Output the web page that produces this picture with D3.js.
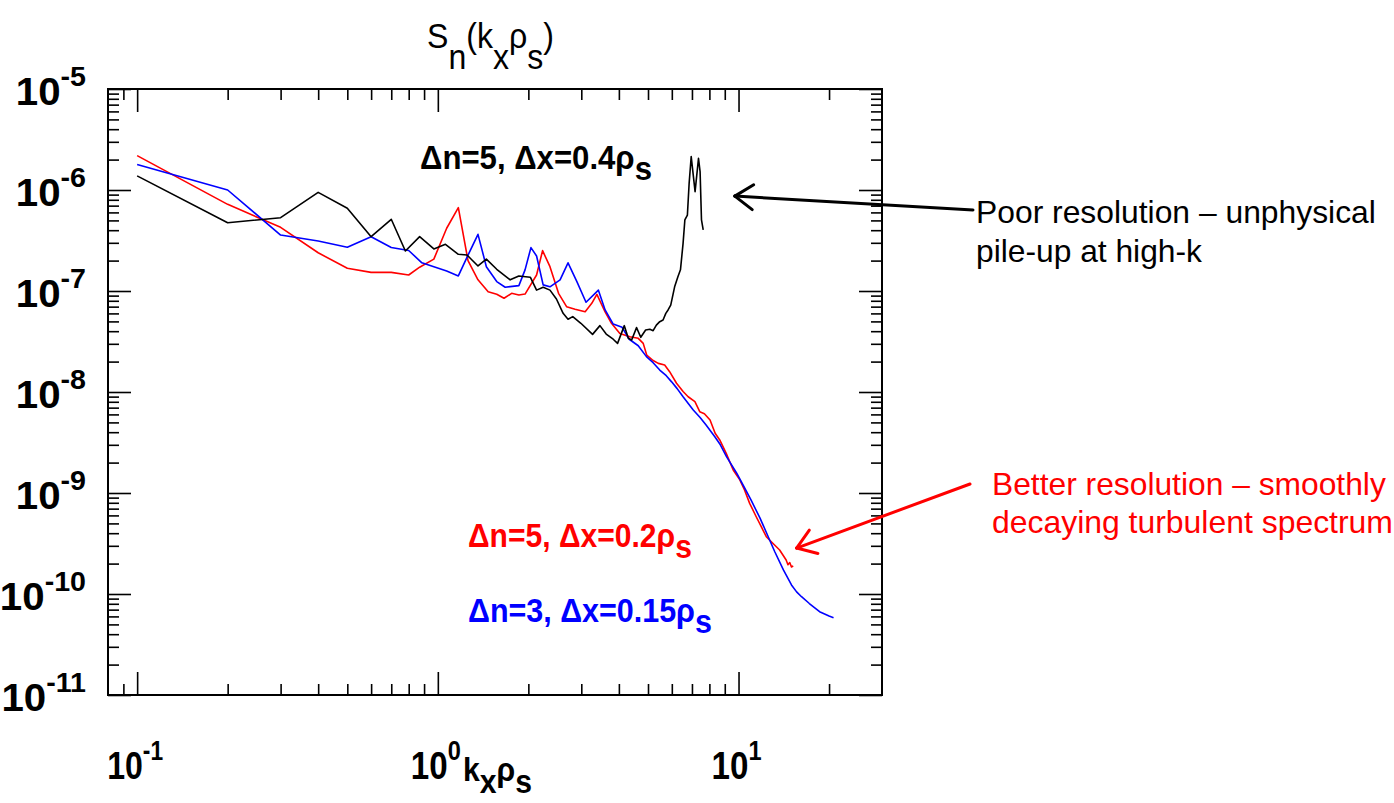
<!DOCTYPE html>
<html><head><meta charset="utf-8">
<script src="https://cdn.jsdelivr.net/npm/d3@7"></script>
<style>
body{margin:0;background:#fff}
svg{display:block}
text{font-family:"Liberation Sans",Arial,Helvetica,sans-serif}
</style>
</head><body>
<svg id="chart" width="1394" height="803"></svg>
<script>
// ---------------- DATA (k_x rho_s , S_n) ----------------
const blackSpectrum = [[0.1,1.38e-6],[0.2,4.74e-7],[0.3,5.32e-7],[0.4,9.48e-7],[0.5,6.6e-7],[0.6,3.45e-7],[0.7,5.13e-7],[0.78,2.49e-7],[0.87,3.45e-7],[0.97,2.61e-7],[1.06,2.9e-7],[1.17,2.31e-7],[1.25,2.27e-7],[1.36,1.77e-7],[1.45,2.07e-7],[1.57,1.64e-7],[1.74,1.29e-7],[1.86,1.41e-7],[2.03,1.37e-7],[2.13,1.02e-7],[2.24,1.09e-7],[2.36,1.02e-7],[2.48,8.34e-8],[2.61,6.01e-8],[2.71,5.25e-8],[2.81,5.57e-8],[2.99,4.79e-8],[3.27,3.72e-8],[3.46,4.54e-8],[3.63,3.75e-8],[3.83,3.33e-8],[3.96,3.03e-8],[4.17,4.54e-8],[4.30,3.4e-8],[4.41,3.27e-8],[4.58,4.34e-8],[4.73,3.48e-8],[4.91,4.11e-8],[5.07,4.18e-8],[5.2,4.05e-8],[5.33,4.6e-8],[5.47,4.97e-8],[5.61,5.16e-8],[5.73,6.01e-8],[5.83,6.49e-8],[5.95,7.26e-8],[6.13,1.1e-7],[6.29,1.39e-7],[6.41,1.62e-7],[6.54,2.96e-7],[6.63,5.05e-7],[6.76,5.65e-7],[6.85,1.16e-6],[6.96,2.14e-6],[7.17,9.62e-7],[7.36,2.06e-6],[7.45,1.52e-6],[7.53,5.05e-7],[7.63,4.02e-7]];

const redSpectrum = [[0.1,2.19e-6],[0.2,7.21e-7],[0.3,4.27e-7],[0.4,2.39e-7],[0.5,1.68e-7],[0.6,1.53e-7],[0.7,1.53e-7],[0.8,1.44e-7],[0.87,1.72e-7],[0.97,2.07e-7],[1.07,4.18e-7],[1.17,6.68e-7],[1.26,2.0e-7],[1.36,1.29e-7],[1.47,9.84e-8],[1.57,9.27e-8],[1.66,8.47e-8],[1.76,9.48e-8],[1.86,9.12e-8],[1.95,9.33e-8],[2.13,1.44e-7],[2.23,2.51e-7],[2.36,1.74e-7],[2.52,9.48e-8],[2.68,7.0e-8],[2.86,6.6e-8],[3.09,6.24e-8],[3.25,7.55e-8],[3.38,9.27e-8],[3.6,6.2e-8],[3.78,4.79e-8],[4.03,3.8e-8],[4.35,3.53e-8],[4.64,3.4e-8],[4.82,3.03e-8],[4.95,2.32e-8],[5.2,2.05e-8],[5.41,1.92e-8],[5.68,1.85e-8],[5.9,1.59e-8],[6.22,1.22e-8],[6.54,1.01e-8],[6.8,8.97e-9],[7.16,8.02e-9],[7.43,6.38e-9],[7.7,6.1e-9],[8.04,5.28e-9],[8.36,3.9e-9],[8.66,3.35e-9],[9.1,2.47e-9],[9.6,1.69e-9],[10.1,1.35e-9],[10.47,1.07e-9],[10.89,7.9e-10],[11.45,5.82e-10],[11.9,4.64e-10],[12.37,3.69e-10],[13.0,3.18e-10],[13.7,2.73e-10],[14.4,2.17e-10],[14.6,1.95e-10],[14.8,2.05e-10],[15.0,1.85e-10],[15.2,1.9e-10]];

const blueSpectrum = [[0.1,1.79e-6],[0.2,1.0e-6],[0.3,3.58e-7],[0.4,3.13e-7],[0.5,2.71e-7],[0.6,3.45e-7],[0.7,2.7e-7],[0.8,2.52e-7],[0.885,1.9e-7],[0.97,1.74e-7],[1.07,1.58e-7],[1.17,1.41e-7],[1.26,2.27e-7],[1.36,3.64e-7],[1.45,1.74e-7],[1.57,1.24e-7],[1.675,1.09e-7],[1.86,1.13e-7],[1.95,1.62e-7],[2.04,2.69e-7],[2.13,2.22e-7],[2.24,1.15e-7],[2.36,1.1e-7],[2.55,1.29e-7],[2.71,1.9e-7],[2.9,1.24e-7],[3.11,7.73e-8],[3.42,1.02e-7],[3.6,6.49e-8],[3.83,4.71e-8],[4.1,4.37e-8],[4.33,3.33e-8],[4.64,2.87e-8],[4.94,2.24e-8],[5.2,1.95e-8],[5.47,1.65e-8],[5.75,1.45e-8],[5.99,1.26e-8],[6.25,1.08e-8],[6.54,8.97e-9],[7.07,6.63e-9],[7.45,5.6e-9],[7.8,4.71e-9],[8.34,3.61e-9],[8.7,3.0e-9],[9.12,2.29e-9],[9.86,1.57e-9],[10.35,1.2e-9],[11.0,8.53e-10],[11.8,5.61e-10],[12.55,3.69e-10],[13.2,2.62e-10],[14.1,1.73e-10],[15.0,1.23e-10],[15.6,1.05e-10],[16.2,9.4e-11],[17.2,8.05e-11],[18.6,6.68e-11],[20.0,6.05e-11],[20.7,5.83e-11]];

const xTickExponents = [-1, 0, 1];
const yTickExponents = [-5, -6, -7, -8, -9, -10, -11];
const xDomain = [0.08, 30];
const yDomain = [1e-11, 1e-5];

const seriesLabels = [
  {main:"\u0394n=5, \u0394x=0.4\u03c1", sub:"s", color:"#000000"},
  {main:"\u0394n=5, \u0394x=0.2\u03c1", sub:"s", color:"#ff0000"},
  {main:"\u0394n=3, \u0394x=0.15\u03c1", sub:"s", color:"#0000ff"}
];
const annotationLines = [
  ["Poor resolution \u2013 unphysical", "pile-up at high-k"],
  ["Better resolution \u2013 smoothly", "decaying turbulent spectrum"]
];
// arrow tips in data space
const annotationTips = [[9.72, 8.7e-7], [15.6, 2.85e-10]];

// ---------------- LAYOUT ----------------
const svg = d3.select("#chart");
const P = {left:108, right:882, top:89, bottom:695};
const x = d3.scaleLog().domain(xDomain).range([P.left, P.right]);
const y = d3.scaleLog().domain(yDomain).range([P.bottom, P.top]);

function minorTicks(dom){
  const t=[];
  for(let e=-13;e<=3;e++) for(let m=2;m<=9;m++){
    const v=m*Math.pow(10,e);
    if(v>dom[0]*1.0001 && v<dom[1]*0.9999) t.push(v);
  }
  return t;
}
const xMajor = xTickExponents.map(e=>Math.pow(10,e));
const yMajor = yTickExponents.map(e=>Math.pow(10,e));
const xMinor = minorTicks(xDomain);
const yMinor = minorTicks(yDomain);

function drawAxis(axisFn, scale, vals, len, tr){
  const g = svg.append("g").attr("transform", tr)
    .call(axisFn(scale).tickValues(vals).tickSize(-len).tickSizeOuter(0).tickFormat(""));
  g.select(".domain").remove();
  g.selectAll("line").attr("stroke","#000").attr("stroke-width",1.6);
}
const MAJ=23, MIN=11;
drawAxis(d3.axisBottom, x, xMajor, MAJ, `translate(0,${P.bottom})`);
drawAxis(d3.axisBottom, x, xMinor, MIN, `translate(0,${P.bottom})`);
drawAxis(d3.axisTop, x, xMajor, MAJ, `translate(0,${P.top})`);
drawAxis(d3.axisTop, x, xMinor, MIN, `translate(0,${P.top})`);
drawAxis(d3.axisLeft, y, yMajor, MAJ, `translate(${P.left},0)`);
drawAxis(d3.axisLeft, y, yMinor, MIN, `translate(${P.left},0)`);
drawAxis(d3.axisRight, y, yMajor, MAJ, `translate(${P.right},0)`);
drawAxis(d3.axisRight, y, yMinor, MIN, `translate(${P.right},0)`);

svg.append("rect").attr("x",P.left).attr("y",P.top)
  .attr("width",P.right-P.left).attr("height",P.bottom-P.top)
  .attr("fill","none").attr("stroke","#000").attr("stroke-width",2);

// ---------------- rich text helper ----------------
function addText(o){
  const g = svg.append("g");
  const t = g.append("text").attr("x",0).attr("y",0)
    .attr("font-size",o.size).attr("font-weight",o.weight||"normal")
    .attr("fill",o.color||"#000").attr("text-anchor",o.anchor||"start");
  let cur=0;
  o.parts.forEach(p=>{
    const s=p.shift||0;
    t.append("tspan").attr("dy",s-cur).attr("font-size",p.size||o.size).text(p.t);
    cur=s;
  });
  let sx=o.sx||1;
  if(o.width){ sx = o.width / t.node().getBBox().width; }
  g.attr("transform",`translate(${o.x},${o.y}) scale(${sx},1)`);
  return g;
}

// tick labels
yMajor.forEach((v,i)=>{
  addText({x:86, y:y(v)+16, size:38, weight:"bold", anchor:"end", sx:1.06,
    parts:[{t:"10"},{t:String(yTickExponents[i]),shift:-19,size:27}]});
});
xMajor.forEach((v,i)=>{
  addText({x:x(v)-2, y:779, size:38, weight:"bold", anchor:"middle", width:(xTickExponents[i]<0?56:50),
    parts:[{t:"10"},{t:String(xTickExponents[i]),shift:-19,size:27}]});
});

// title
addText({x:427, y:48, size:36, parts:[
  {t:"S"},{t:"n",shift:21},{t:"(k",shift:0},{t:"x",shift:21},{t:"\u03c1",shift:0},{t:"s",shift:21},{t:")",shift:0}
], width:127});

// x axis label
addText({x:463, y:781, size:33, weight:"bold", parts:[
  {t:"k"},{t:"x",shift:12},{t:"\u03c1",shift:0},{t:"s",shift:12}
], width:69});

// ---------------- series ----------------
const line = d3.line().x(d=>x(d[0])).y(d=>y(d[1]));
const plotG = svg.append("g");
[[redSpectrum,"#ff0000"],[blueSpectrum,"#0000ff"],[blackSpectrum,"#000000"]].forEach(([data,c])=>{
  plotG.append("path").datum(data).attr("d",line)
    .attr("fill","none").attr("stroke",c).attr("stroke-width",1.6).attr("stroke-linejoin","round");
});

// legend-type labels
const labelPos = [{x:420,y:169,w:232},{x:468,y:547,w:224},{x:468,y:622,w:244}];
seriesLabels.forEach((l,i)=>{
  addText({x:labelPos[i].x, y:labelPos[i].y, size:33, weight:"bold", color:l.color,
    parts:[{t:l.main},{t:l.sub,shift:11}], width:labelPos[i].w});
});

// ---------------- annotations ----------------
const annColors = ["#000000","#ff0000"];
const annText = [{x:976, y:[223,262], w:[400,227]},{x:992, y:[495,533], w:[394,401]}];
const annTails = [[973,210],[970,484]];
annotationLines.forEach((lines,i)=>{
  lines.forEach((s,j)=>{
    addText({x:annText[i].x, y:annText[i].y[j], size:32, color:annColors[i], parts:[{t:s}], width:annText[i].w[j]});
  });
  const tip=[x(annotationTips[i][0]), y(annotationTips[i][1])];
  const tail=annTails[i];
  const g=svg.append("g").attr("stroke",annColors[i]).attr("stroke-width",3).attr("fill","none").attr("stroke-linecap","round");
  g.append("line").attr("x1",tail[0]).attr("y1",tail[1]).attr("x2",tip[0]).attr("y2",tip[1]);
  const ang=Math.atan2(tail[1]-tip[1], tail[0]-tip[0]);
  [-0.6,0.6].forEach(da=>{
    g.append("line").attr("x1",tip[0]).attr("y1",tip[1])
      .attr("x2",tip[0]+22*Math.cos(ang+da)).attr("y2",tip[1]+22*Math.sin(ang+da));
  });
});
</script>
</body></html>
